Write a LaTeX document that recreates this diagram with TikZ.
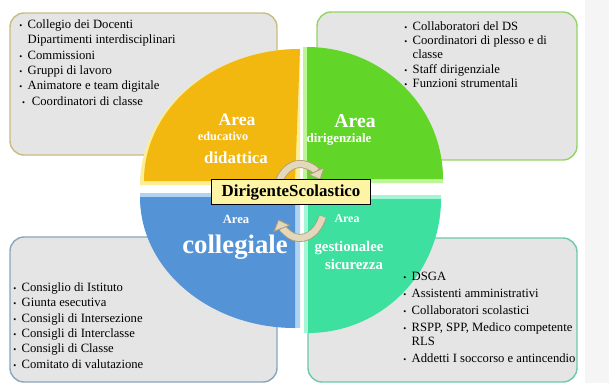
\documentclass[tikz,border=0pt]{standalone}
\usepackage{fontspec}
\setmainfont{Liberation Serif}
\usetikzlibrary{arrows.meta}

% colours of the four areas
\definecolor{edugold}{RGB}{242,184,16}
\definecolor{edurim}{RGB}{250,238,150}
\definecolor{dirgreen}{RGB}{98,214,40}
\definecolor{dirrim}{RGB}{190,245,150}
\definecolor{colblue}{RGB}{84,148,214}
\definecolor{colrim}{RGB}{175,212,242}
\definecolor{gescyan}{RGB}{62,224,160}
\definecolor{gesrim}{RGB}{165,246,214}
\definecolor{boxgray}{RGB}{229,229,229}
\definecolor{sidegray}{RGB}{245,245,245}
\definecolor{dsyellow}{RGB}{253,244,165}
\definecolor{cycfill}{RGB}{228,216,188}
\definecolor{cycline}{RGB}{176,158,120}

\newcommand\itm{\makebox[6pt][l]{\fontsize{6}{6}\selectfont\textbullet}}

\tikzset{
  listbox/.style={rounded corners=10pt, fill=boxgray, line width=1pt},
  items/.style={align=left, anchor=north west, inner sep=0pt},
  areatxt/.style={text=white, inner sep=0pt},
  cycarrow/.style={draw=cycline, double=cycfill, double distance=4.5pt, line width=0.6pt,
    -{Triangle[length=7pt,width=13pt,fill=cycfill,color=cycline,line width=0.6pt]}}
}

\begin{document}
\begin{tikzpicture}[x=0.025cm,y=0.025cm]  % one unit = one pixel

\useasboundingbox (0,0) rectangle (609,-383);
\fill[sidegray] (585,0) rectangle (609,-383);

% list boxes
\draw[listbox, draw={rgb,255:red,200;green,188;blue,130}] (10,-13) rectangle (277,-155);
\draw[listbox, draw={rgb,255:red,146;green,212;blue,104}] (317,-12) rectangle (577,-160);
\draw[listbox, draw={rgb,255:red,138;green,166;blue,189}] (10,-237) rectangle (277,-382);
\draw[listbox, draw={rgb,255:red,108;green,201;blue,169}] (308,-238) rectangle (577,-382);

% four quarters
\fill[edurim] (300,-185) -- (140,-185) arc[start angle=180,end angle=90,x radius=160,y radius=136] -- cycle;
\fill[edugold] (295,-181) -- (144,-181) arc[start angle=180,end angle=90,x radius=156,y radius=132] -- cycle;

\fill[dirrim] (303,-183) -- (303,-47) arc[start angle=90,end angle=0,x radius=140,y radius=136] -- cycle;
\fill[dirgreen] (307,-179) -- (307,-47) arc[start angle=90,end angle=0,x radius=136,y radius=132] -- cycle;

\fill[colrim] (300,-193) -- (140,-193) arc[start angle=180,end angle=270,x radius=160,y radius=135] -- cycle;
\fill[colblue] (295,-197) -- (140,-197) arc[start angle=180,end angle=270,x radius=155,y radius=131] -- cycle;

\fill[gesrim] (304,-195) -- (304,-333) arc[start angle=270,end angle=360,x radius=137,y radius=138] -- cycle;
\fill[gescyan] (308,-199) -- (308,-333) arc[start angle=270,end angle=360,x radius=133,y radius=134] -- cycle;

% area labels
\node[areatxt, font=\fontsize{12.5}{14}\selectfont\bfseries] (eduA) at (237,-120) {Area};
\node[areatxt, font=\fontsize{8.7}{10}\selectfont\bfseries] (eduB) at (223,-136) {educativo};
\node[areatxt, font=\fontsize{12}{14}\selectfont\bfseries] (eduC) at (236,-158) {didattica};

\node[areatxt, font=\fontsize{14}{16}\selectfont\bfseries] (dirA) at (355,-121) {Area};
\node[areatxt, font=\fontsize{9.2}{11}\selectfont\bfseries] (dirB) at (339,-139) {dirigenziale};

\node[areatxt, font=\fontsize{9}{11}\selectfont\bfseries] (colA) at (236,-219) {Area};
\node[areatxt, font=\fontsize{19}{21}\selectfont\bfseries] (colB) at (235,-247) {collegiale};

\node[areatxt, font=\fontsize{8.5}{10}\selectfont\bfseries] (gesA) at (347,-219) {Area};
\node[areatxt, font=\fontsize{10.5}{12}\selectfont\bfseries] (gesB) at (349,-248) {gestionalee};
\node[areatxt, font=\fontsize{10.5}{12}\selectfont\bfseries] (gesC) at (354,-264) {sicurezza};

% cycle arrows round the centre
\coordinate (cyc) at (300,-201);
\draw[cycarrow] ([shift={(150:25 and 37)}]cyc) arc[start angle=150,end angle=35,x radius=25,y radius=37];
\draw[cycarrow] ([shift={(-25:25 and 37)}]cyc) arc[start angle=-25,end angle=-150,x radius=25,y radius=37];

% centre box
\node[draw=black, fill=dsyellow, line width=0.7pt, minimum width=3.95cm, minimum height=0.62cm,
  font=\fontsize{12}{14}\selectfont\bfseries] (ds) at (291,-192) {DirigenteScolastico};

% lists
\node[items, font=\fontsize{9}{11}\selectfont] (tlist) at (19,-19) {%
\itm Collegio dei Docenti\\
\hspace*{6pt}Dipartimenti interdisciplinari\\
\itm Commissioni\\
\itm Gruppi di lavoro\\
\itm Animatore e team digitale\\
\hspace*{2pt}\itm\hspace*{1pt}Coordinatori di classe};

\node[items, font=\fontsize{9}{10.2}\selectfont] (rlist) at (404,-21) {%
\itm Collaboratori del DS\\
\itm Coordinatori di plesso e di\\
\hspace*{6pt}classe\\
\itm Staff dirigenziale\\
\itm Funzioni strumentali};

\node[items, font=\fontsize{9}{11}\selectfont] (clist) at (13,-282) {%
\itm Consiglio di Istituto\\
\itm Giunta esecutiva\\
\itm Consigli di Intersezione\\
\itm Consigli di Interclasse\\
\itm Consigli di Classe\\
\itm Comitato di valutazione};

\node[items, font=\fontsize{9}{12}\selectfont] (glist) at (403,-272) {%
\itm DSGA\\
\itm Assistenti amministrativi\\
\itm Collaboratori scolastici\\
\itm RSPP, SPP, Medico competente\\[-2pt]
\hspace*{6pt}RLS\\
\itm Addetti I soccorso e antincendio};

\end{tikzpicture}
\end{document}
